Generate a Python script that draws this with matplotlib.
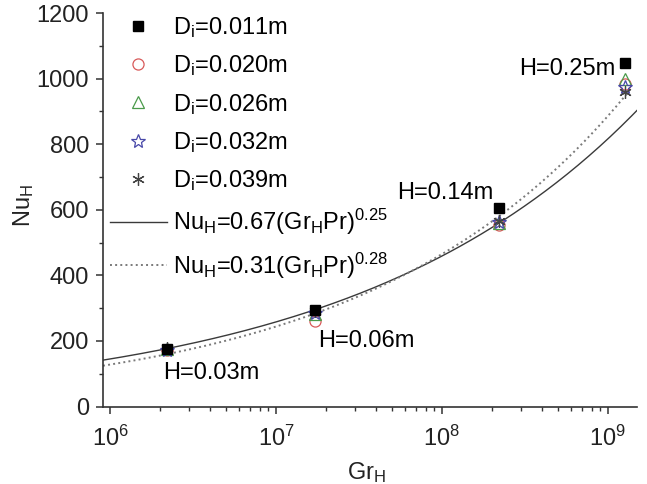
import numpy as np
import matplotlib
matplotlib.use("Agg")
import matplotlib.pyplot as plt

plt.rcParams['font.family'] = ['Liberation Sans', 'DejaVu Sans']
plt.rcParams['mathtext.fontset'] = 'custom'
plt.rcParams['mathtext.rm'] = 'Liberation Sans'
plt.rcParams['mathtext.it'] = 'Liberation Sans'
plt.rcParams['mathtext.bf'] = 'Liberation Sans:bold'

# ---- data ----
heights = ["H=0.03m", "H=0.06m", "H=0.14m", "H=0.25m"]
gr_h = [2.2e6, 1.72e7, 2.2e8, 1.27e9]
nu_d011 = [176, 293, 606, 1047]
nu_d020 = [172, 260, 555, 985]
nu_d026 = [176, 282, 560, 998]
nu_d032 = [174, 286, 563, 975]
nu_d039 = [178, 291, 567, 960]
series_labels = ["D$_\\mathregular{i}$=0.011m", "D$_\\mathregular{i}$=0.020m",
                 "D$_\\mathregular{i}$=0.026m", "D$_\\mathregular{i}$=0.032m",
                 "D$_\\mathregular{i}$=0.039m"]
# correlations Nu_H = C (Gr_H Pr)^n
pr = 2200.0
corr1 = (0.67, 0.25)
corr2 = (0.31, 0.28)
corr_labels = ["Nu$_\\mathregular{H}$=0.67(Gr$_\\mathregular{H}$Pr)$^\\mathregular{0.25}$",
               "Nu$_\\mathregular{H}$=0.31(Gr$_\\mathregular{H}$Pr)$^\\mathregular{0.28}$"]
x_ticks = [1e6, 1e7, 1e8, 1e9]
y_ticks = [0, 200, 400, 600, 800, 1000, 1200]

fig = plt.figure(figsize=(6.47, 4.84), dpi=100)
ax = fig.add_axes([0.1592, 0.160, 0.8253, 0.813])

xlim = (9.07e5, 1.5e9)
ax.set_xscale('log')
ax.set_xlim(*xlim)
ax.set_ylim(0, 1200)

g1 = np.logspace(np.log10(xlim[0]), np.log10(1.5e9), 200)
g2 = np.logspace(np.log10(xlim[0]), np.log10(1.3e9), 200)
l1, = ax.plot(g1, corr1[0] * (g1 * pr) ** corr1[1], '-', color='#3a3a3a', lw=1.0)
l2, = ax.plot(g2, corr2[0] * (g2 * pr) ** corr2[1], ':', color='#7a7a7a', lw=1.4)

fs = 17
ms = dict(markersize=8, linestyle='none')
h1, = ax.plot(gr_h, nu_d011, marker='s', color='black', markersize=7.5, linestyle='none', zorder=5)
h2, = ax.plot(gr_h, nu_d020, marker='o', mfc='none', mec='#d85a5a', mew=0.9, **ms, zorder=4)
h3, = ax.plot(gr_h, nu_d026, marker='^', mfc='none', mec='#4a9a4a', mew=0.9, **ms, zorder=4)
h4, = ax.plot(gr_h, nu_d032, marker='*', mfc='none', mec='#4848a8', mew=0.9, markersize=10, linestyle='none', zorder=4)
h5, = ax.plot(gr_h, nu_d039, marker=(6, 2, 0), color='#444444', mew=0.9, markersize=9, linestyle='none', zorder=4)

# annotations
offs = [(-3, -18, 'left'), (2, -22, 'left'), (-4, 11, 'right'), (-7, -4, 'right')]
refs = [nu_d039, nu_d011, nu_d011, nu_d011]
for i, lab in enumerate(heights):
    dx, dy, ha = offs[i]
    ax.annotate(lab, xy=(gr_h[i], refs[i][i]), xytext=(dx, dy), textcoords='offset points',
                ha=ha, va='center', fontsize=fs)

leg = ax.legend([h1, h2, h3, h4, h5, l1, l2], series_labels + corr_labels,
                loc='upper left', bbox_to_anchor=(0.013, 0.995), frameon=False,
                fontsize=fs, borderaxespad=0, borderpad=0, handlelength=2.4,
                handletextpad=0.25, labelspacing=0.57, numpoints=1)

ax.spines['top'].set_visible(False)
ax.spines['right'].set_visible(False)
for s in ['left', 'bottom']:
    ax.spines[s].set_linewidth(1.2)
    ax.spines[s].set_color('#333333')

ax.set_xticks(x_ticks)
ax.set_yticks(y_ticks)
ax.yaxis.set_minor_locator(matplotlib.ticker.MultipleLocator(100))
ax.tick_params(which='major', direction='out', length=5, width=1.1, labelsize=fs, pad=5, colors='#333333', labelcolor='#222222')
ax.tick_params(which='minor', direction='out', length=3, width=1.0, colors='#333333')
ax.tick_params(axis='x', which='major', pad=9)

ax.set_xlabel("Gr$_\\mathregular{H}$", fontsize=fs, color='#222222')
ax.set_ylabel("Nu$_\\mathregular{H}$", fontsize=fs, color='#222222')
ax.xaxis.set_label_coords(0.494, -0.135)
ax.yaxis.set_label_coords(-0.125, 0.512)

fig.savefig("out.png", dpi=100)
